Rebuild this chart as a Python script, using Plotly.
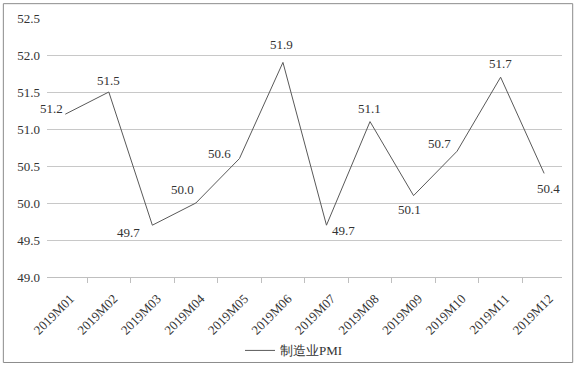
import plotly.graph_objects as go

months = ["2019M01", "2019M02", "2019M03", "2019M04", "2019M05", "2019M06",
          "2019M07", "2019M08", "2019M09", "2019M10", "2019M11", "2019M12"]
pmi = [51.2, 51.5, 49.7, 50.0, 50.6, 51.9, 49.7, 51.1, 50.1, 50.7, 51.7, 50.4]
series_name = "制造业PMI"
y_ticks = [49.0, 49.5, 50.0, 50.5, 51.0, 51.5, 52.0, 52.5]

# label offsets (pixels) relative to each point: style only
label_dx = [-14, 0, -24, -13, -20, -1, 17, -1, -4, -18, 0, 4]
label_dy = [6, 12, -7, 14, 5, 18, -5, 13, -14, 8, 14, -15]

FONT = "Liberation Serif"
TXT = "#333333"

fig = go.Figure()
fig.add_trace(go.Scatter(
    x=months, y=pmi, mode="lines", name=series_name,
    line=dict(color="#595959", width=1),
))

for m, v, dx, dy in zip(months, pmi, label_dx, label_dy):
    fig.add_annotation(x=m, y=v, text=f"{v:.1f}", showarrow=False,
                       xshift=dx, yshift=dy, xanchor="center", yanchor="middle",
                       font=dict(family=FONT, size=13, color=TXT))

L, R, T, B = 46.7, 17.7, 18.3, 92.3
W, H = 580, 369
pw, ph = W - L - R, H - T - B

def px(x):
    return (x - L) / pw

def py(y):
    return (H - B - y) / ph

fig.add_shape(type="rect", xref="paper", yref="paper",
              x0=px(3), x1=px(573), y0=py(362), y1=py(4),
              line=dict(color="#8c8c8c", width=1), fillcolor="rgba(0,0,0,0)",
              layer="below")

fig.update_layout(
    width=W, height=H,
    margin=dict(l=L, r=R, t=T, b=B, pad=0, autoexpand=False),
    paper_bgcolor="white", plot_bgcolor="white",
    font=dict(family=FONT, size=13, color=TXT),
    showlegend=True,
    legend=dict(orientation="h", x=px(294), y=py(350), xanchor="center",
                yanchor="middle", font=dict(family=FONT, size=13, color=TXT),
                bgcolor="rgba(0,0,0,0)"),
    xaxis=dict(
        type="category", tickangle=-45, tickson="boundaries",
        range=[-0.42, 11.41],
        ticks="outside", ticklen=5, tickcolor="#bfbfbf",
        ticklabelstandoff=8, ticklabelshift=5,
        showline=True, linecolor="#bfbfbf", linewidth=1,
        showgrid=False, zeroline=False, automargin=False,
        tickfont=dict(family=FONT, size=13, color=TXT),
    ),
    yaxis=dict(
        range=[49.0, 52.5], tickvals=y_ticks,
        ticktext=[f"{t:.1f}" for t in y_ticks],
        showgrid=True, gridcolor="#c8c8c8", gridwidth=1,
        showline=False, zeroline=False, ticks="", automargin=False,
        ticklabelstandoff=6,
        tickfont=dict(family=FONT, size=13, color=TXT),
    ),
)

fig.write_html("out.html", config={"displayModeBar": False},
               post_script="document.body.style.margin='0px';document.body.style.padding='0px';")
